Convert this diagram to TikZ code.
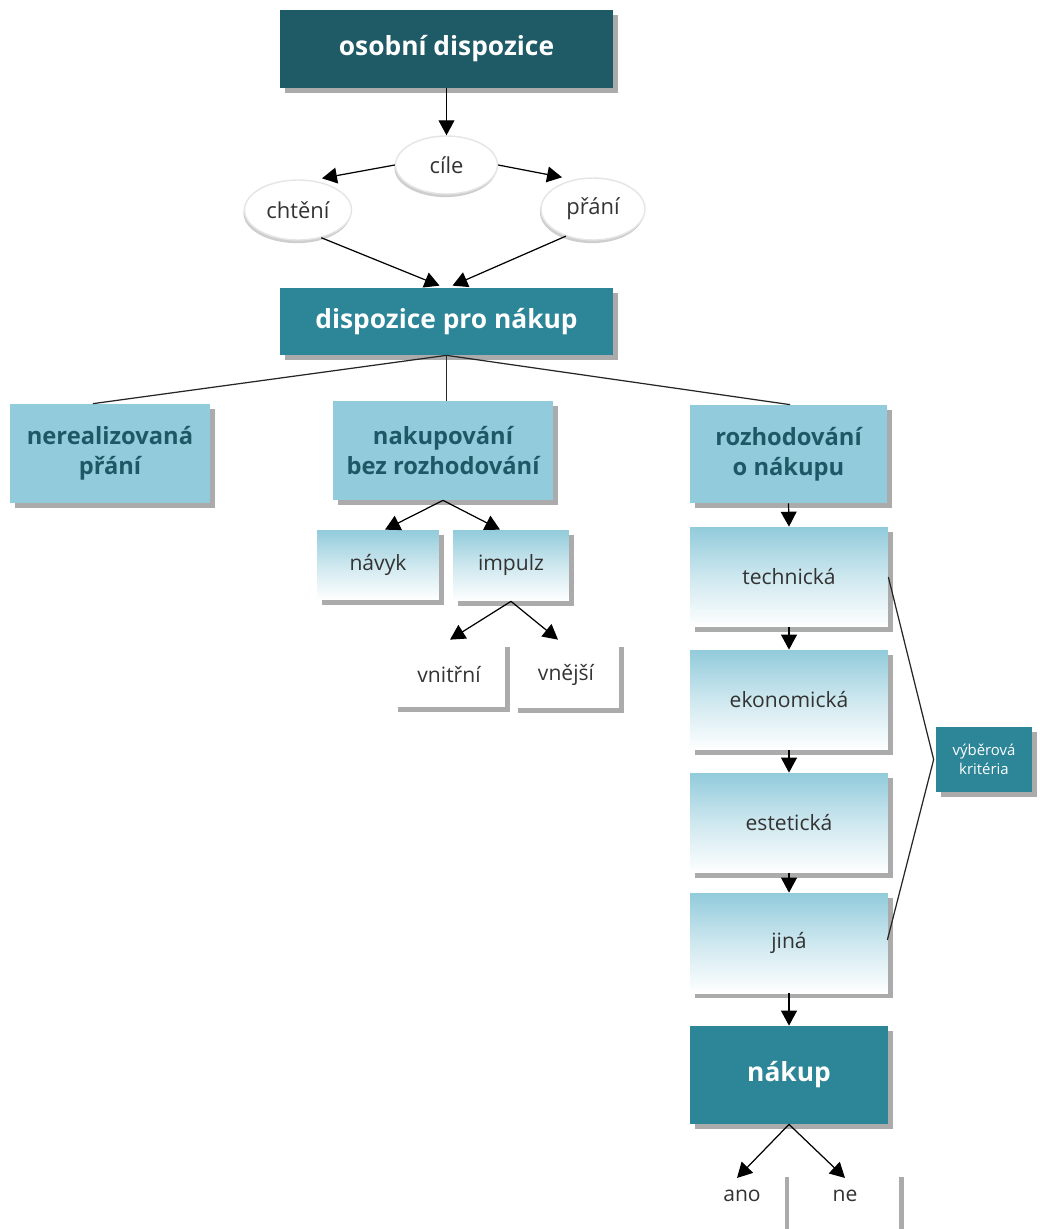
\documentclass[tikz,border=0pt]{standalone}
\usepackage{fontspec}
\setmainfont{Open Sans}
\usetikzlibrary{shadows,arrows.meta,shapes.geometric,calc}
\definecolor{darkteal}{HTML}{1F5A67}
\definecolor{midteal}{HTML}{2D8598}
\definecolor{lightteal}{HTML}{92CBDB}
\definecolor{tealtext}{HTML}{1E5766}
\definecolor{bodytext}{HTML}{333333}
\tikzset{
  shad/.style={drop shadow={shadow xshift=2.6pt,shadow yshift=-2.6pt,fill=black!55,opacity=0.6}},
  darkbox/.style={rectangle,fill=darkteal,shad,text=white,font=\fontsize{15}{18}\selectfont\bfseries,align=center,inner sep=0pt},
  midbox/.style={rectangle,fill=midteal,shad,text=white,font=\fontsize{15}{18}\selectfont\bfseries,align=center,inner sep=0pt},
  lightbox/.style={rectangle,fill=lightteal,shad,text=tealtext,font=\fontsize{13.5}{17}\selectfont\bfseries,align=center,inner sep=0pt},
  gradbox/.style={rectangle,top color=lightteal,bottom color=white,middle color=lightteal!45,shad,text=bodytext,font=\fontsize{12}{15}\selectfont,align=center,inner sep=0pt},
  whitebox/.style={rectangle,fill=white,shad,text=bodytext,font=\fontsize{12}{15}\selectfont,align=center,inner sep=0pt},
  oval/.style={ellipse,fill=white,draw=black!10,line width=0.8pt,drop shadow={shadow xshift=-0.6pt,shadow yshift=-1.8pt,fill=black!35,opacity=0.55},text=bodytext,font=\fontsize{12.5}{15}\selectfont,inner sep=0pt},
  arr/.style={-{Triangle[width=9pt,length=8.5pt]},line width=0.7pt,black},
  ln/.style={line width=0.7pt,black!85},
}
\begin{document}
\begin{tikzpicture}[x=0.02cm,y=-0.02cm]
\useasboundingbox (0,0) rectangle (1043,1229);
\clip (0,0) rectangle (1043,1229);
\fill[white] (0,0) rectangle (1043,1229);

\node[darkbox,minimum width=6.66cm,minimum height=1.56cm] (osob) at (446.5,49) {osobní dispozice};
\node[oval,minimum width=2.04cm,minimum height=1.16cm] (cile) at (446.5,165) {cíle};
\node[oval,minimum width=2.14cm,minimum height=1.2cm] (chteni) at (298,210) {chtění};
\node[oval,minimum width=2.08cm,minimum height=1.24cm] (prani) at (593,209) {přání};
\node[midbox,minimum width=6.66cm,minimum height=1.34cm] (disp) at (446.5,321.5) {dispozice pro nákup};

\node[lightbox,minimum width=4cm,minimum height=1.98cm] (nereal) at (110,453.5) {nerealizovaná\\přání};
\node[lightbox,minimum width=4.4cm,minimum height=1.98cm] (bez) at (443,450.5) {nakupování\\bez rozhodování};
\node[lightbox,minimum width=3.94cm,minimum height=1.96cm] (rozh) at (788.5,454) {rozhodování\\o nákupu};

\node[gradbox,minimum width=2.44cm,minimum height=1.4cm] (navyk) at (378,565) {návyk};
\node[gradbox,minimum width=2.32cm,minimum height=1.42cm] (impulz) at (511,565.5) {impulz};
\node[whitebox,minimum width=2.24cm,minimum height=1.3cm] (vnitrni) at (449,674.5) {vnitřní};
\node[whitebox,minimum width=2.12cm,minimum height=1.32cm] (vnejsi) at (566,675) {vnější};

\node[gradbox,minimum width=3.96cm,minimum height=2cm] (tech) at (789,577) {technická};
\node[gradbox,minimum width=3.96cm,minimum height=2cm] (eko) at (789,700) {ekonomická};
\node[gradbox,minimum width=3.96cm,minimum height=2cm] (est) at (789,823) {estetická};
\node[gradbox,minimum width=3.96cm,minimum height=2cm] (jina) at (789,943) {jiná};
\node[midbox,minimum width=3.96cm,minimum height=1.96cm] (nakup) at (789,1075) {nákup};
\node[midbox,font=\fontsize{8.5}{11}\selectfont,minimum width=1.92cm,minimum height=1.3cm] (krit) at (984,759.5) {výběrová\\kritéria};

\node[whitebox,minimum width=1.7cm,minimum height=1.6cm] (ano) at (742,1212) {};
\node[whitebox,minimum width=2.16cm,minimum height=1.6cm] (ne) at (845,1212) {};
\node[text=bodytext,font=\fontsize{12}{15}\selectfont] (anot) at (742,1196) {ano};
\node[text=bodytext,font=\fontsize{12}{15}\selectfont] (net) at (845,1196) {ne};

% connectors
\draw[arr] (osob.south) -- (cile.north);
\draw[arr] (cile.west) -- ($(chteni.north)+(24,-1)$);
\draw[arr] (cile.east) -- ($(prani.north)+(-31,0)$);
\draw[arr] (chteni.-50) -- ($(disp.north)+(-7,-2)$);
\draw[arr] (prani.-135) -- ($(disp.north)+(6,-2)$);

\draw[ln] (disp.south) -- ($(nereal.north west)!0.415!(nereal.north east)$);
\draw[ln] (disp.south) -- (bez.north -| disp.south);
\draw[ln] (disp.south) -- ($(rozh.north)+(1.5,0)$);

\draw[arr] (bez.south) -- ($(navyk.north)+(7,0)$);
\draw[arr] (bez.south) -- ($(impulz.north)+(-11,0)$);
\draw[arr] (impulz.south) -- ($(vnitrni.north)+(1,-2)$);
\draw[arr] (impulz.south) -- ($(vnejsi.north)+(-8,-2)$);

\draw[arr] (rozh.south) -- (tech.north);
\draw[arr] (tech.south) -- (eko.north);
\draw[arr] (eko.south) -- (est.north);
\draw[arr] (est.south) -- (jina.north);
\draw[arr] (jina.south) -- (nakup.north);
\draw[arr] (nakup.south) -- ($(anot.north)+(-5,-6)$);
\draw[arr] (nakup.south) -- ($(net.north)+(0,-6)$);

\draw[ln] (tech.east) -- ($(krit.west)+(-2,0)$) coordinate (kv) -- ($(jina.east)+(-1,-3)$);
\end{tikzpicture}
\end{document}
